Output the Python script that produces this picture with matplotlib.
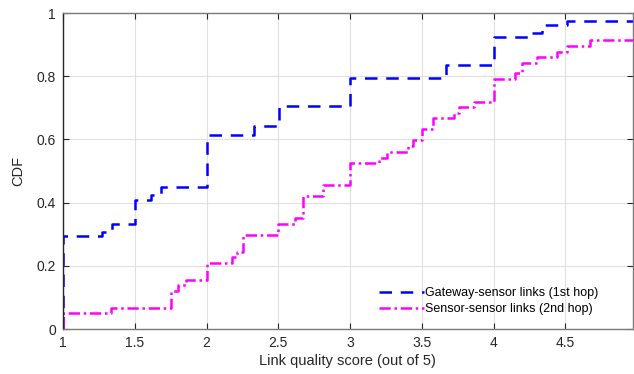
import numpy as np
import matplotlib
matplotlib.use('Agg')
import matplotlib.pyplot as plt

plt.rcParams['font.family'] = ['Liberation Sans', 'DejaVu Sans']

# CDF gradini (x = punteggio, y = CDF)
gw_x = [1.0, 1.0, 1.27, 1.34, 1.5, 1.61, 1.68, 2.0, 2.33, 2.505, 3.0, 3.67, 4.0, 4.26, 4.34, 4.515, 4.97]
gw_y = [0.0, 0.294, 0.306, 0.332, 0.408, 0.424, 0.45, 0.615, 0.642, 0.706, 0.795, 0.835, 0.923, 0.938, 0.963, 0.976, 0.976]

ss_x = [1.0, 1.0, 1.335, 1.75, 1.80, 1.86, 2.0, 2.175, 2.21, 2.256, 2.5, 2.617, 2.67, 2.81,
        3.0, 3.20, 3.255, 3.406, 3.437, 3.5, 3.58, 3.725, 3.76, 3.865,
        4.0, 4.15, 4.20, 4.30, 4.44, 4.515, 4.67, 4.97]
ss_y = [0.0, 0.050, 0.068, 0.120, 0.138, 0.155, 0.209, 0.227, 0.245, 0.297, 0.332, 0.350, 0.421, 0.457,
        0.527, 0.540, 0.561, 0.580, 0.597, 0.632, 0.667, 0.685, 0.702, 0.720,
        0.790, 0.810, 0.843, 0.860, 0.878, 0.896, 0.914, 0.914]

x_ticks = [1, 1.5, 2, 2.5, 3, 3.5, 4, 4.5]
x_labels = ['1', '1.5', '2', '2.5', '3', '3.5', '4', '4.5']
y_ticks = [0, 0.2, 0.4, 0.6, 0.8, 1]
y_labels = ['0', '0.2', '0.4', '0.6', '0.8', '1']

fig = plt.figure(figsize=(6.34, 3.74), dpi=100)
ax = fig.add_axes([0.0994, 0.1203, 0.8986, 0.8447])

ax.step(gw_x, gw_y, where='post', color='#0000ff', lw=1.8,
        linestyle=(0, (5, 3.5)), label='Gateway-sensor links (1st hop)')
ax.step(ss_x, ss_y, where='post', color='#ff00ff', lw=1.8,
        linestyle=(0, (4.5, 1.5, 1, 1.5)), label='Sensor-sensor links (2nd hop)')

ax.set_xlim(1, 4.97)
ax.set_ylim(0, 1)
ax.set_xticks(x_ticks)
ax.set_xticklabels(x_labels)
ax.set_yticks(y_ticks)
ax.set_yticklabels(y_labels)
ax.grid(True, color='#e0e0e0', lw=0.8)
ax.set_axisbelow(True)

ax.tick_params(direction='in', top=True, right=True, length=4, labelsize=10,
               colors='#262626', pad=5)
for s in ax.spines.values():
    s.set_color('#7a7a7a')
    s.set_linewidth(1.0)
ax.spines['left'].set_color('#262626')

ax.set_xlabel('Link quality score (out of 5)', fontsize=10.5, color='#262626', labelpad=3)
ax.set_ylabel('CDF', fontsize=10.5, color='#262626', labelpad=8)

ax.legend(loc='lower right', bbox_to_anchor=(0.96, 0.008), frameon=False, fontsize=9,
          handlelength=3.6, handletextpad=0.1, labelspacing=0.3)

fig.savefig('out.png', dpi=100)
